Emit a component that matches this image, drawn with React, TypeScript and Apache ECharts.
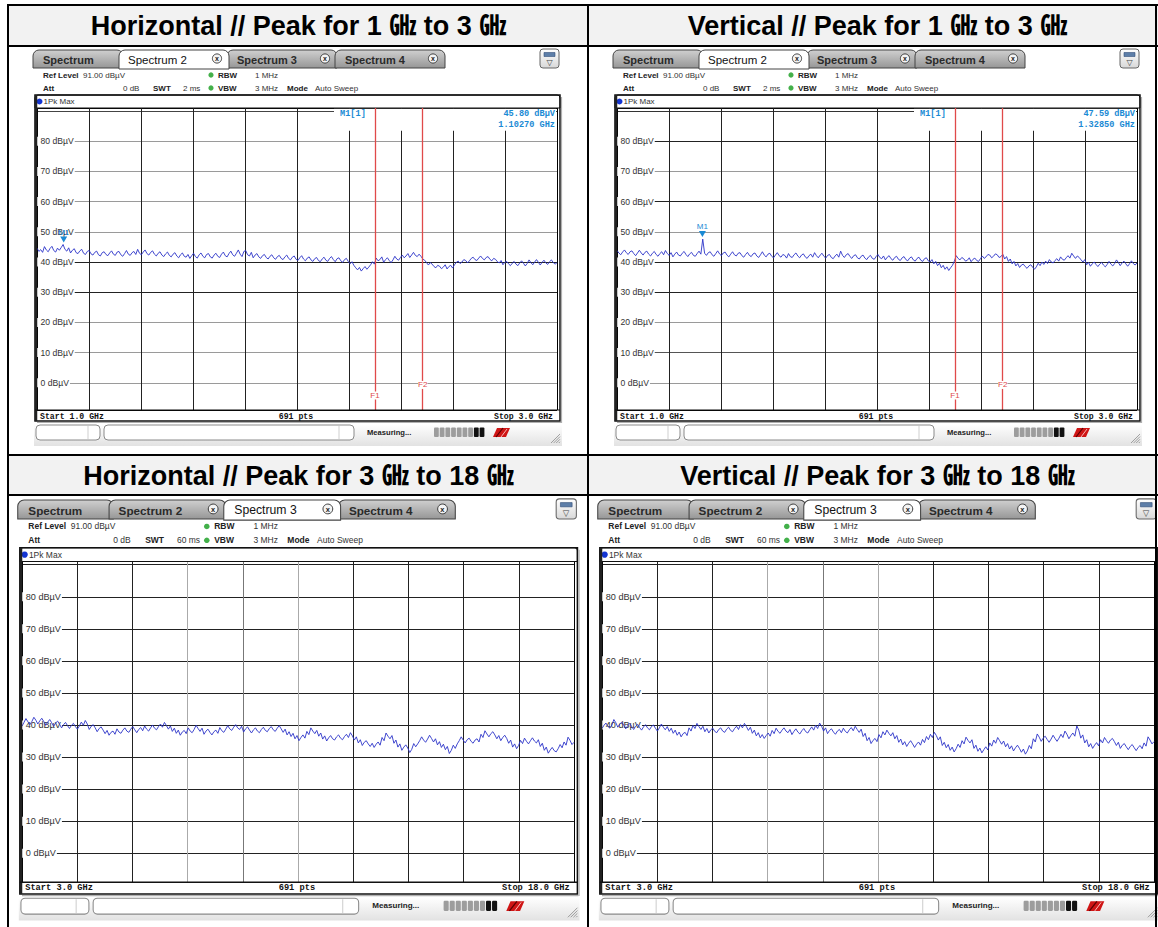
import React, { useEffect, useRef } from 'react';
import * as echarts from 'echarts';

// ---------- DATA ----------
const TITLES = [
  'Horizontal // Peak for 1 ㎓ to 3 ㎓',
  'Vertical // Peak for 1 ㎓ to 3 ㎓',
  'Horizontal // Peak for 3 ㎓ to 18 ㎓',
  'Vertical // Peak for 3 ㎓ to 18 ㎓',
];
const TABS = ['Spectrum', 'Spectrum 2', 'Spectrum 3', 'Spectrum 4'];
const Y_LABEL_VALUES = [0, 10, 20, 30, 40, 50, 60, 70, 80];

// Horizontal 1-3 GHz (dBµV)
const H_1_3 = [
  44.6, 43.5, 44.1, 43.2, 45.1, 44.0, 43.4, 44.5, 45.2, 43.8, 43.3, 44.6, 43.9, 44.8, 45.8, 44.2,
  43.6, 44.7, 43.0, 43.9, 44.4, 43.1, 42.8, 43.7, 44.2, 42.9, 42.5, 43.5, 43.8, 42.7, 42.3, 43.2,
  43.6, 42.4, 42.0, 43.1, 43.4, 42.5, 42.1, 43.0, 43.7, 42.6, 42.2, 43.3, 43.5, 42.4, 41.9, 42.8,
  43.8, 42.6, 42.2, 43.1, 43.5, 42.5, 44.2, 42.9, 42.4, 43.3, 44.0, 42.8, 42.3, 43.2, 43.7, 42.6,
  42.0, 42.9, 43.4, 42.3, 41.8, 42.7, 43.3, 42.2, 41.7, 42.6, 43.1, 42.0, 41.4, 42.4, 43.0, 41.9,
  41.6, 42.5, 41.2, 42.1, 42.9, 41.8, 41.3, 42.4, 43.0, 41.9, 41.4, 42.5, 42.8, 41.7, 41.3, 42.3,
  42.9, 41.9, 41.5, 42.6, 43.3, 42.1, 41.7, 42.8, 43.6, 42.4, 41.9, 42.9, 44.0, 42.6, 41.8, 43.5,
  43.8, 42.4, 42.0, 43.2, 41.4, 42.3, 42.8, 41.7, 41.2, 42.1, 42.5, 41.5, 41.0, 41.9, 42.4, 41.4,
  40.9, 41.8, 42.2, 41.2, 40.8, 41.7, 42.3, 41.2, 40.7, 41.6, 42.0, 40.9, 40.5, 41.4, 42.1, 41.0,
  40.4, 41.3, 41.7, 40.7, 40.2, 41.1, 41.5, 40.5, 40.1, 41.0, 41.6, 40.6, 40.2, 41.2, 41.8, 40.8,
  40.1, 41.1, 41.4, 40.4, 39.9, 40.8, 41.2, 40.2, 39.4, 40.1, 38.9, 38.1, 37.4, 38.2, 37.0, 37.8,
  38.5, 37.6, 38.3, 39.1, 40.1, 39.3, 41.3, 40.4, 40.8, 41.7, 39.9, 40.8, 41.4, 40.5, 39.8, 40.7,
  41.9, 41.0, 40.6, 41.5, 42.3, 41.4, 42.0, 42.8, 41.5, 42.3, 43.2, 42.2, 41.8, 42.6, 41.9, 41.0,
  40.6, 39.8, 39.0, 39.8, 39.3, 38.5, 38.1, 38.9, 38.6, 37.8, 38.3, 39.1, 37.7, 38.5, 38.9, 38.0,
  39.1, 39.9, 40.3, 39.5, 40.0, 40.8, 40.5, 39.7, 40.4, 41.2, 41.6, 40.8, 40.5, 41.3, 42.0, 41.2,
  40.7, 41.5, 41.8, 40.9, 40.4, 41.2, 40.9, 40.1, 39.7, 40.5, 39.1, 39.9, 40.2, 39.4, 38.8, 39.6,
  40.2, 39.3, 38.8, 39.7, 40.4, 39.6, 38.7, 39.5, 40.7, 39.8, 39.1, 40.0, 40.8, 39.9, 39.0, 39.9,
  40.6, 39.7, 39.2, 40.1, 40.7, 39.8, 39.3, 39.8,
];

// Vertical 1-3 GHz (dBµV)
const V_1_3 = [
  43.8, 43.0, 42.4, 43.3, 44.0, 43.1, 42.5, 43.4, 43.7, 42.8, 42.1, 43.0, 43.9, 43.0, 42.3, 43.2,
  43.6, 42.6, 42.0, 42.9, 43.5, 42.5, 41.9, 42.8, 43.4, 42.4, 43.8, 42.8, 42.2, 43.1, 41.7, 42.6,
  43.3, 42.3, 42.0, 42.9, 43.5, 42.5, 41.8, 42.7, 43.2, 42.2, 41.9, 42.8, 43.6, 42.6, 47.59, 42.9,
  42.2, 43.1, 43.4, 42.4, 41.9, 42.8, 43.7, 42.7, 42.1, 43.0, 43.3, 42.3, 41.7, 42.6, 43.4, 42.4,
  42.0, 42.9, 43.1, 42.1, 41.6, 42.5, 43.2, 42.2, 41.8, 42.7, 43.0, 42.0, 41.5, 42.4, 43.4, 42.3,
  41.7, 42.6, 42.9, 41.9, 41.4, 42.3, 43.1, 42.1, 41.6, 42.5, 42.2, 41.3, 42.8, 41.8, 41.5, 42.4,
  43.0, 42.0, 41.4, 42.3, 42.7, 41.7, 41.2, 42.1, 42.6, 41.6, 43.1, 42.1, 41.4, 42.3, 42.9, 41.9,
  41.3, 42.2, 42.5, 41.5, 41.1, 42.0, 42.6, 41.6, 43.6, 42.2, 41.5, 42.4, 42.8, 41.8, 41.2, 42.1,
  42.4, 41.4, 41.0, 41.9, 42.3, 41.3, 40.8, 41.7, 42.2, 41.2, 40.9, 41.8, 42.5, 41.5, 41.1, 42.0,
  40.7, 41.6, 42.1, 41.1, 40.6, 41.5, 41.9, 40.9, 40.5, 41.4, 41.8, 40.8, 40.4, 41.3, 41.7, 40.7,
  40.3, 41.2, 41.6, 40.6, 40.2, 41.1, 41.4, 40.4, 40.0, 40.8, 39.4, 40.2, 38.8, 39.6, 38.1, 38.9,
  37.6, 38.4, 37.2, 38.1, 38.9, 40.3, 42.1, 41.2, 40.7, 41.5, 41.1, 40.3, 40.6, 41.4, 40.1, 40.9,
  41.3, 40.5, 40.2, 41.1, 42.0, 41.2, 41.7, 42.5, 42.3, 41.4, 41.9, 42.7, 42.4, 41.5, 41.8, 42.6,
  41.0, 41.8, 40.2, 41.0, 39.4, 40.2, 38.7, 39.5, 38.2, 39.0, 39.3, 38.5, 37.9, 38.7, 39.1, 38.3,
  37.6, 38.4, 39.6, 38.8, 40.0, 39.2, 40.3, 39.5, 40.8, 40.0, 39.7, 40.5, 41.1, 40.3, 41.7, 40.9,
  40.6, 41.4, 42.1, 41.3, 42.9, 42.0, 41.2, 42.0, 41.5, 40.7, 40.0, 40.8, 39.1, 39.9, 38.6, 39.4,
  40.0, 39.2, 38.5, 39.3, 39.9, 39.0, 38.4, 39.2, 40.2, 39.3, 38.7, 39.5, 40.7, 39.8, 38.8, 39.7,
  40.3, 39.4, 38.6, 39.4, 40.4, 39.5, 39.0, 39.7,
];

// Horizontal 3-18 GHz (dBµV)
const H_3_18 = [
  39.6, 40.8, 42.0, 41.0, 40.1, 41.1, 42.4, 41.5, 40.3, 41.3, 42.1, 41.1, 39.9, 40.9, 41.7, 40.7,
  39.6, 40.6, 41.2, 40.2, 39.1, 40.1, 40.8, 39.8, 38.9, 39.9, 40.5, 39.5, 38.7, 39.7, 40.9, 39.9,
  41.4, 40.3, 38.6, 39.6, 40.1, 39.1, 37.9, 38.9, 39.4, 38.4, 37.3, 38.3, 36.8, 37.7, 38.1, 37.1,
  38.8, 37.8, 37.4, 38.4, 39.1, 38.1, 37.7, 38.7, 39.5, 38.5, 37.6, 38.6, 39.2, 38.2, 39.7, 38.7,
  38.1, 39.1, 40.0, 39.0, 38.5, 39.5, 40.3, 39.3, 40.8, 39.8, 38.7, 39.7, 38.0, 39.0, 37.4, 38.4,
  36.8, 37.8, 38.3, 37.3, 39.1, 38.1, 37.6, 38.6, 39.9, 38.9, 38.0, 39.0, 37.1, 38.1, 38.7, 37.7,
  36.9, 37.9, 38.4, 37.4, 39.2, 38.2, 37.7, 38.7, 39.8, 38.8, 38.3, 39.3, 40.1, 39.1, 38.6, 39.6,
  37.8, 38.8, 39.4, 38.4, 37.5, 38.5, 39.1, 38.1, 37.6, 38.6, 39.3, 38.3, 37.9, 38.9, 39.5, 38.5,
  38.0, 39.0, 39.8, 38.8, 37.7, 38.7, 36.9, 37.9, 36.4, 37.4, 35.7, 36.7, 35.1, 36.1, 36.9, 35.9,
  38.0, 37.0, 39.1, 38.1, 37.3, 38.3, 36.5, 37.5, 35.6, 36.6, 35.0, 36.0, 36.7, 35.7, 35.3, 36.3,
  36.9, 35.9, 35.4, 36.4, 37.1, 36.1, 37.6, 36.6, 35.3, 36.3, 34.4, 35.4, 33.6, 34.6, 35.1, 34.1,
  33.3, 34.3, 33.0, 34.0, 34.7, 33.7, 36.1, 35.1, 37.5, 36.5, 35.7, 36.7, 34.3, 35.3, 33.1, 34.1,
  32.1, 33.1, 33.8, 32.8, 31.4, 32.4, 34.2, 33.2, 34.1, 35.1, 36.3, 35.3, 34.6, 35.6, 36.8, 35.8,
  34.7, 35.7, 33.8, 34.8, 33.0, 34.0, 32.3, 33.3, 31.1, 32.1, 33.7, 32.7, 34.1, 35.1, 36.3, 35.3,
  34.4, 35.4, 35.9, 34.9, 34.3, 35.3, 35.7, 34.7, 37.1, 36.1, 38.2, 37.2, 36.3, 37.3, 37.9, 36.9,
  35.7, 36.7, 35.1, 36.1, 36.8, 35.8, 34.3, 35.3, 33.1, 34.1, 32.6, 33.6, 35.2, 34.2, 35.9, 34.9,
  34.1, 35.1, 36.0, 35.0, 34.4, 35.4, 33.3, 34.3, 32.1, 33.1, 31.2, 32.2, 33.0, 32.0, 31.6, 32.6,
  33.9, 32.9, 34.7, 33.7, 36.2, 35.2, 33.9, 34.6,
];

// Vertical 3-18 GHz (dBµV)
const V_3_18 = [
  38.9, 39.9, 40.6, 39.6, 39.0, 40.0, 41.7, 40.7, 39.3, 40.3, 40.9, 39.9, 38.8, 39.8, 40.5, 39.5,
  38.6, 39.6, 40.2, 39.2, 38.4, 39.4, 40.1, 39.1, 38.5, 39.5, 40.0, 39.0, 38.1, 39.1, 40.3, 39.3,
  38.5, 39.5, 38.0, 39.0, 37.4, 38.4, 36.8, 37.8, 36.3, 37.3, 37.7, 36.7, 39.1, 38.1, 39.9, 38.9,
  40.5, 39.5, 38.6, 39.6, 37.9, 38.9, 37.5, 38.5, 39.0, 38.0, 37.6, 38.6, 39.1, 38.1, 37.7, 38.7,
  39.3, 38.3, 37.9, 38.9, 39.6, 38.6, 40.1, 39.1, 40.5, 39.5, 38.3, 39.3, 37.4, 38.4, 36.6, 37.6,
  36.0, 37.0, 35.8, 36.7, 37.5, 36.5, 38.3, 37.3, 39.0, 38.0, 37.4, 38.4, 39.1, 38.1, 37.6, 38.6,
  37.0, 38.0, 38.8, 37.8, 37.2, 38.2, 38.9, 37.9, 37.5, 38.5, 39.4, 38.4, 39.9, 38.9, 40.6, 39.6,
  38.1, 39.1, 37.3, 38.3, 38.8, 37.8, 37.1, 38.1, 38.6, 37.6, 39.0, 38.0, 37.5, 38.5, 39.2, 38.2,
  39.6, 38.6, 37.7, 38.7, 36.4, 37.4, 35.1, 36.1, 34.2, 35.2, 35.8, 34.8, 37.0, 36.0, 37.9, 36.9,
  38.4, 37.4, 36.6, 37.6, 35.7, 36.7, 34.6, 35.6, 33.8, 34.8, 33.3, 34.3, 35.1, 34.1, 33.0, 34.0,
  34.7, 33.7, 35.5, 34.5, 36.4, 35.4, 37.1, 36.1, 37.7, 36.7, 35.3, 36.3, 33.6, 34.6, 32.9, 33.9,
  32.1, 33.1, 31.6, 32.6, 34.0, 33.0, 35.1, 34.1, 36.2, 35.2, 34.4, 35.4, 32.7, 33.7, 31.8, 32.8,
  31.3, 32.3, 33.2, 32.2, 34.4, 33.4, 35.3, 34.3, 36.1, 35.1, 34.0, 35.0, 33.2, 34.2, 32.5, 33.5,
  31.9, 32.9, 33.7, 32.7, 31.5, 32.5, 30.9, 31.9, 33.6, 32.6, 35.7, 34.7, 37.2, 36.2, 34.9, 35.9,
  36.5, 35.5, 34.6, 35.6, 36.8, 35.8, 34.9, 35.9, 37.1, 36.1, 38.1, 37.1, 35.7, 36.7, 37.5, 36.5,
  39.7, 38.4, 35.9, 36.9, 34.4, 35.4, 33.2, 34.2, 32.7, 33.7, 34.5, 33.5, 35.4, 34.4, 36.1, 35.1,
  34.3, 35.3, 35.8, 34.8, 33.6, 34.6, 32.7, 33.7, 34.2, 33.2, 32.3, 33.3, 33.9, 32.9, 32.0, 33.0,
  33.6, 32.6, 34.4, 33.4, 36.3, 35.3, 34.1, 34.8,
];

// ---------- STYLE CONSTANTS ----------
const TRACE = '#2b33c8';
const MARK = '#1a8ad4';
const FLINE = '#e04a4a';
const UI_FONT = "'Liberation Sans', Arial, sans-serif";
const MONO = "'Liberation Mono', 'DejaVu Sans Mono', monospace";
const TITLE_FONT = "'Liberation Sans', Arial, 'Noto Sans CJK KR', 'Noto Sans CJK SC', sans-serif";

const DARK = '#222';
const GRAY = '#9a9a9a';

type Panel = {
  ox: number; oy: number; s: number;
  start: number; stop: number; step: number;
  data: number[]; active: number; swt: string;
  marker?: { f: number; v: number; level: string; freq: string };
  flines?: number[];
  hColors: string[]; vColors: string[];
};

const PANELS: Panel[] = [
  {
    ox: 33, oy: 48, s: 1, start: 1, stop: 3, step: 0.2, data: H_1_3, active: 1, swt: '2 ms',
    marker: { f: 1.1027, v: 45.8, level: '45.80 dBµV', freq: '1.10270 GHz' },
    flines: [2.3, 2.4835],
    hColors: ['#000', GRAY, GRAY, GRAY, DARK, DARK, GRAY, GRAY, GRAY, GRAY, '#444', '#000'],
    vColors: ['#000', DARK, DARK, DARK, DARK, DARK, DARK, DARK, DARK, DARK, '#000'],
  },
  {
    ox: 613, oy: 48, s: 1, start: 1, stop: 3, step: 0.2, data: V_1_3, active: 1, swt: '2 ms',
    marker: { f: 1.3285, v: 47.59, level: '47.59 dBµV', freq: '1.32850 GHz' },
    flines: [2.3, 2.4835],
    hColors: ['#000', GRAY, '#555', GRAY, DARK, DARK, GRAY, DARK, GRAY, DARK, '#333', '#000'],
    vColors: ['#000', DARK, DARK, DARK, DARK, DARK, DARK, DARK, DARK, DARK, '#000'],
  },
  {
    ox: 17.75, oy: 497.8, s: 1.0615, start: 3, stop: 18, step: 1.5, data: H_3_18, active: 2, swt: '60 ms',
    hColors: ['#000', DARK, DARK, DARK, DARK, DARK, DARK, DARK, DARK, DARK, DARK, '#000'],
    vColors: ['#000', DARK, DARK, '#aaa', '#777', '#aaa', DARK, DARK, DARK, DARK, '#000'],
  },
  {
    ox: 597.75, oy: 497.8, s: 1.0615, start: 3, stop: 18, step: 1.5, data: V_3_18, active: 2, swt: '60 ms',
    hColors: ['#000', DARK, DARK, DARK, DARK, DARK, DARK, DARK, DARK, DARK, DARK, '#000'],
    vColors: ['#000', DARK, DARK, '#aaa', '#777', '#aaa', DARK, DARK, DARK, DARK, '#000'],
  },
];

// ---------- GRAPHIC HELPERS ----------
function txt(x: number, y: number, text: string, o: any = {}) {
  return {
    type: 'text', x, y, z: o.z ?? 6, silent: true,
    style: {
      text,
      fontSize: o.size ?? 8,
      fontFamily: o.font ?? UI_FONT,
      fontWeight: o.bold ? 'bold' : 'normal',
      fill: o.color ?? '#222',
      align: o.align ?? 'left', textAlign: o.align ?? 'left',
      verticalAlign: 'middle', textVerticalAlign: 'middle',
    },
  };
}
function rect(x: number, y: number, w: number, h: number, style: any, o: any = {}) {
  return { type: 'rect', z: o.z ?? 5, silent: true, shape: { x, y, width: w, height: h, r: o.r ?? 0 }, style };
}
function line(x1: number, y1: number, x2: number, y2: number, stroke: string, lw = 1, z = 6) {
  return { type: 'line', z, silent: true, shape: { x1, y1, x2, y2 }, style: { stroke, lineWidth: lw } };
}
const grad = (a: string, b: string) =>
  new echarts.graphic.LinearGradient(0, 0, 0, 1, [{ offset: 0, color: a }, { offset: 1, color: b }]);

const TAB_GEOM = [
  { x0: 0, x1: 90, tx: 10, cx: 0 },
  { x0: 86, x1: 196, tx: 95, cx: 184 },
  { x0: 194, x1: 304, tx: 204, cx: 292 },
  { x0: 302, x1: 412, tx: 312, cx: 400 },
];

function panelChrome(p: Panel) {
  const ch: any[] = [];
  const order = [0, 1, 2, 3].filter((i) => i !== p.active).concat([p.active]);
  order.forEach((i) => {
    const g = TAB_GEOM[i];
    const act = i === p.active;
    ch.push(rect(g.x0, 2, g.x1 - g.x0, act ? 19 : 18,
      { fill: act ? '#ffffff' : grad('#d0d0d0', '#969696'), stroke: '#444', lineWidth: 1 },
      { r: [6, 6, 0, 0], z: 5 }));
    ch.push(txt(g.tx, 11.5, TABS[i], { size: act ? 11.5 : 11, bold: !act, color: act ? '#111' : '#2a2a2a' }));
    if (g.cx) {
      ch.push({ type: 'circle', z: 6, silent: true, shape: { cx: g.cx, cy: 10.5, r: 4.6 },
        style: { fill: '#f4f4f4', stroke: '#333', lineWidth: 0.9 } });
      ch.push(txt(g.cx, 10.7, 'x', { size: 7, bold: true, align: 'center', color: '#222' }));
    }
  });
  ch.push(rect(507, 1, 19, 19, { fill: grad('#ffffff', '#d8d8d8'), stroke: '#666', lineWidth: 1 }, { r: 3 }));
  ch.push(rect(511, 4.5, 11, 4, { fill: '#5d7ea8', stroke: '#34507a', lineWidth: 0.6 }));
  ch.push(txt(516.5, 14, '▽', { size: 8, align: 'center', color: '#444', font: "'DejaVu Sans', sans-serif" }));

  ch.push(txt(10, 27, 'Ref Level', { bold: true }));
  ch.push(txt(50, 27, '91.00 dBµV', { color: '#333' }));
  ch.push({ type: 'circle', z: 6, silent: true, shape: { cx: 178, cy: 27, r: 2.6 }, style: { fill: '#43b04a' } });
  ch.push(txt(185, 27, 'RBW', { bold: true }));
  ch.push(txt(222, 27, '1 MHz', { color: '#333' }));
  ch.push(txt(10, 40, 'Att', { bold: true }));
  ch.push(txt(90, 40, '0 dB', { color: '#333' }));
  ch.push(txt(120, 40, 'SWT', { bold: true }));
  ch.push(txt(150, 40, p.swt, { color: '#333' }));
  ch.push({ type: 'circle', z: 6, silent: true, shape: { cx: 178, cy: 40, r: 2.6 }, style: { fill: '#43b04a' } });
  ch.push(txt(185, 40, 'VBW', { bold: true }));
  ch.push(txt(222, 40, '3 MHz', { color: '#333' }));
  ch.push(txt(254, 40, 'Mode', { bold: true }));
  ch.push(txt(282, 40, 'Auto Sweep', { color: '#333' }));

  ch.push(rect(2, 47, 525, 13, { fill: '#fff', stroke: '#111', lineWidth: 1 }, { r: [3, 3, 0, 0], z: 4 }));
  ch.push({ type: 'circle', z: 6, silent: true, shape: { cx: 6.5, cy: 53.5, r: 3 }, style: { fill: '#1434d2' } });
  ch.push(txt(10.5, 53.5, '1Pk Max', { color: '#333' }));

  ch.push({ type: 'rect', z: 7, silent: true, shape: { x: 2, y: 47, width: 525, height: 326 },
    style: { fill: 'none', stroke: '#111', lineWidth: 1.5 } });
  ch.push(line(3, 47, 3, 373, '#222', 2.5, 7));
  ch.push(line(528.5, 49, 528.5, 375, '#b0b0b0', 1.2, 7));
  ch.push(line(4, 374.5, 528, 374.5, '#b0b0b0', 1.2, 7));
  ch.push(line(2, 362, 527, 362, '#111', 1.2, 7));

  const fmt = (v: number) => v.toFixed(1);
  ch.push(txt(7, 368, `Start ${fmt(p.start)} GHz`, { font: MONO, bold: true, size: 8.2, color: '#111' }));
  ch.push(txt(263, 368, '691 pts', { font: MONO, bold: true, size: 8.2, color: '#111', align: 'center' }));
  ch.push(txt(520, 368, `Stop ${fmt(p.stop)} GHz`, { font: MONO, bold: true, size: 8.2, color: '#111', align: 'right' }));

  ch.push(rect(1, 376, 528, 22, { fill: grad('#ffffff', '#e2e2e2') }, { z: 3 }));
  ch.push(rect(3, 377, 64, 15, { fill: '#fff', stroke: '#8a8a8a', lineWidth: 1 }, { r: 4 }));
  ch.push(line(55, 378, 55, 391, '#cfcfcf', 1));
  ch.push(rect(71, 377, 250, 15, { fill: '#fff', stroke: '#8a8a8a', lineWidth: 1 }, { r: 4 }));
  ch.push(line(306, 378, 306, 391, '#cfcfcf', 1));
  ch.push(txt(334, 384.5, 'Measuring...', { size: 7.6, bold: true, color: '#222' }));
  for (let i = 0; i < 9; i++) {
    ch.push(rect(401 + i * 5.7, 379.5, 4.8, 9.5, { fill: i >= 7 ? '#111' : '#9d9d9d' }, { r: 1 }));
  }
  ch.push({ type: 'polygon', z: 6, silent: true, shape: { points: [[460, 389], [464, 380], [477, 380], [473, 389]] },
    style: { fill: '#cf1515' } });
  ch.push(line(463, 389, 470, 380, '#5a0000', 1.2));
  ch.push(line(468, 389, 474, 381, '#ffdddd', 0.8));
  for (let k = 0; k < 4; k++) {
    ch.push(line(518 + k * 2.6, 395, 527, 386 + k * 2.6, '#8c8c8c', 0.8));
  }

  if (p.marker) {
    ch.push(rect(301, 60.8, 222, 22, { fill: '#fff' }, { z: 1 }));
    ch.push(txt(307, 66, 'M1[1]', { font: MONO, bold: true, size: 8.6, color: MARK, z: 8 }));
    ch.push(txt(522, 66, p.marker.level, { font: MONO, bold: true, size: 8.6, color: MARK, align: 'right', z: 8 }));
    ch.push(txt(522, 77, p.marker.freq, { font: MONO, bold: true, size: 8.6, color: MARK, align: 'right', z: 8 }));
  }
  return { type: 'group', x: p.ox, y: p.oy, scaleX: p.s, scaleY: p.s, children: ch };
}

function tableChrome() {
  const g: any[] = [];
  g.push({ type: 'rect', z: 0, silent: true, shape: { x: 8, y: 5, width: 1150, height: 41 }, style: { fill: '#f2f2f2' } });
  g.push({ type: 'rect', z: 0, silent: true, shape: { x: 8, y: 455, width: 1150, height: 40 }, style: { fill: '#f2f2f2' } });
  const L = (x1: number, y1: number, x2: number, y2: number) =>
    ({ type: 'line', z: 9, silent: true, shape: { x1, y1, x2, y2 }, style: { stroke: '#000', lineWidth: 2 } });
  g.push(L(7, 5, 1158, 5));
  g.push(L(7, 46, 1158, 46));
  g.push(L(7, 455, 1158, 455));
  g.push(L(7, 495, 1158, 495));
  g.push(L(8, 4, 8, 927));
  g.push(L(588, 4, 588, 927));
  g.push(L(1156, 4, 1156, 927));
  const pos = [[298.5, 26], [877.5, 26], [298.5, 475.5], [877.5, 475.5]];
  TITLES.forEach((t, i) => {
    g.push({
      type: 'text', z: 9, silent: true, x: pos[i][0], y: pos[i][1],
      style: {
        text: t, fontSize: 27, fontWeight: 'bold', fontFamily: TITLE_FONT, fill: '#000',
        align: 'center', textAlign: 'center', verticalAlign: 'middle', textVerticalAlign: 'middle',
      },
    });
  });
  return g;
}

function buildOption() {
  const grids = PANELS.map((p) => ({
    left: p.ox + 4 * p.s, top: p.oy + 60 * p.s, width: 520 * p.s, height: 302 * p.s, show: false,
  }));
  const xAxes = PANELS.map((p, i) => ({
    type: 'value', gridIndex: i, min: p.start, max: p.stop, interval: p.step,
    axisLabel: { show: false }, axisTick: { show: false }, axisLine: { show: false },
    splitLine: { show: true, lineStyle: { color: p.vColors, width: 1 } },
  }));
  const yAxes = PANELS.map((p, i) => ({
    type: 'value', gridIndex: i, min: -9, max: 91, splitNumber: 10,
    axisLine: { show: false }, axisTick: { show: false },
    axisLabel: {
      inside: true, margin: 0, color: '#333', fontSize: 8.6 * p.s, fontFamily: UI_FONT,
      backgroundColor: '#fff', padding: [0, 1, 0, 3.6 * p.s], showMinLabel: false, showMaxLabel: false,
      formatter: (v: number) => (Y_LABEL_VALUES.indexOf(Math.round(v)) >= 0 && Math.abs(v - Math.round(v)) < 1e-6 ? `${Math.round(v)} dBµV` : ''),
    },
    splitLine: { show: true, lineStyle: { color: p.hColors, width: 1 } },
  }));
  const series = PANELS.map((p, i) => {
    const n = p.data.length;
    const pts = p.data.map((v, k) => [p.start + (k * (p.stop - p.start)) / (n - 1), v]);
    const s: any = {
      type: 'line', xAxisIndex: i, yAxisIndex: i, data: pts, showSymbol: false, symbol: 'none',
      lineStyle: { color: TRACE, width: 0.9 }, silent: true, z: 2,
    };
    const mp: any[] = [];
    if (p.flines) {
      s.markLine = {
        silent: true, symbol: ['none', 'none'], label: { show: false },
        lineStyle: { color: FLINE, width: 1.3, type: 'solid' },
        data: p.flines.map((f) => ({ xAxis: f })),
      };
      const fy = [-4.2, -0.7];
      p.flines.forEach((f, k) => {
        mp.push({
          coord: [f, fy[k]], symbol: 'rect', symbolSize: 0.1, itemStyle: { color: 'rgba(0,0,0,0)' },
          label: { show: true, position: 'inside', formatter: `F${k + 1}`, color: FLINE, fontSize: 8,
            fontFamily: UI_FONT, backgroundColor: '#fff', padding: [0, 0] },
        });
      });
    }
    if (p.marker) {
      mp.push({
        coord: [p.marker.f, p.marker.v],
        symbol: 'path://M0,0 L10,0 L5,8 Z', symbolSize: [7, 6], symbolOffset: [0, -5],
        itemStyle: { color: MARK },
        label: { show: true, position: 'top', distance: 0.5, formatter: 'M1', color: MARK, fontSize: 8, fontFamily: UI_FONT },
      });
    }
    if (mp.length) s.markPoint = { silent: true, data: mp };
    return s;
  });
  return {
    animation: false,
    backgroundColor: '#ffffff',
    grid: grids,
    xAxis: xAxes,
    yAxis: yAxes,
    series,
    graphic: [...tableChrome(), ...PANELS.map(panelChrome)],
  };
}

export default function App() {
  const ref = useRef<HTMLDivElement>(null);
  useEffect(() => {
    if (!ref.current) return;
    const chart = echarts.init(ref.current, null, { renderer: 'svg' });
    chart.setOption(buildOption() as any);
    return () => chart.dispose();
  }, []);
  return (
    <div
      ref={ref}
      style={{ position: 'absolute', left: 0, top: 0, width: 1158, height: 927, background: '#fff' }}
    />
  );
}
